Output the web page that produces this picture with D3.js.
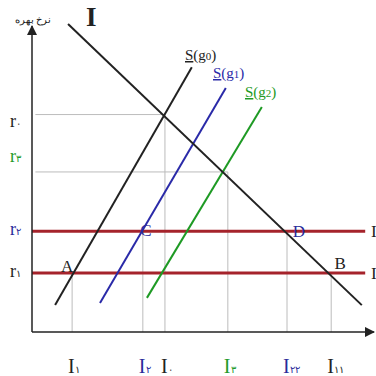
<!DOCTYPE html>
<html lang="fa">
<head>
<meta charset="UTF-8">
<script src="https://d3js.org/d3.v7.min.js"></script>
<style>
    body { margin: 0; background: #fff; }
    text { font-family: "Liberation Serif", serif; }
</style>
</head>
<body>
<svg id="chart" width="376" height="376"></svg>
<script>
// interest rate levels (y) and investment levels (x)
const rNames = ["r۰", "r۳", "r۲", "r۱"];
const rValues = [72, 53, 33.4, 19.5];
const iNames = ["I۱", "I۲", "I۰", "I۳", "I۲۲", "I۱۱"];
const iValues = [11.8, 32.6, 39.1, 57.6, 75, 88];
// which r each I column reaches up to
const iHeights = [19.5, 33.4, 72, 53, 33.4, 19.5];

// investment curve and the three saving curves, [x, y] end points
const investLine = [[10.6, 102], [97, 8.9]];
const sNames = ["0", "1", "2"];
const sLines = [
    [[6.8, 8.9], [47, 87.7]],
    [[20, 9.6], [57, 80.8]],
    [[33.8, 11.3], [67.6, 74.5]]
];
const points = ["A", "C", "D", "B"];
const pointX = [11.8, 32.6, 75, 88];
const pointY = [19.5, 33.4, 33.4, 19.5];

const svg = d3.select("#chart");
const x = d3.scaleLinear().domain([0, 100]).range([32, 372]);
const y = d3.scaleLinear().domain([0, 100]).range([332, 30]);
const line = d3.line().x(d => x(d[0])).y(d => y(d[1]));

const black = "#222", blue = "#2a2a9a", green = "#239a2a", red = "#a5232b", grey = "#bcbcbc";
const rColors = [black, green, blue, black];
const rOffsets = [12, -10, 4, 4];
const iColors = [black, blue, black, green, blue, black];
const sColors = [black, "#2a2aa8", "#1e9a24"];

// grey guide lines
svg.append("g").selectAll("line")
    .data([0, 1])
    .join("line")
    .attr("x1", x(1)).attr("x2", d => x(d === 0 ? iValues[2] : iValues[3]))
    .attr("y1", d => y(rValues[d])).attr("y2", d => y(rValues[d]))
    .attr("stroke", grey).attr("stroke-width", 1);

svg.append("g").selectAll("line")
    .data(iValues)
    .join("line")
    .attr("x1", d => x(d)).attr("x2", d => x(d))
    .attr("y1", y(0)).attr("y2", (d, i) => y(iHeights[i]))
    .attr("stroke", grey).attr("stroke-width", 1);

// red horizontal rates r2 and r1
svg.append("g").selectAll("line")
    .data([rValues[2], rValues[3]])
    .join("line")
    .attr("x1", x(0)).attr("x2", x(98))
    .attr("y1", d => y(d)).attr("y2", d => y(d))
    .attr("stroke", red).attr("stroke-width", 3);

svg.selectAll(".edge")
    .data([rValues[2], rValues[3]])
    .join("text")
    .attr("class", "edge")
    .attr("x", 371).attr("y", d => y(d) + 6)
    .attr("font-size", 17).attr("fill", black)
    .text("I");

// saving curves
svg.append("g").selectAll("path")
    .data(sLines)
    .join("path")
    .attr("d", line)
    .attr("fill", "none")
    .attr("stroke", (d, i) => sColors[i])
    .attr("stroke-width", 2);

// investment curve
svg.append("path")
    .attr("d", line(investLine))
    .attr("fill", "none").attr("stroke", black).attr("stroke-width", 2);

svg.append("text")
    .attr("x", 86).attr("y", 26)
    .attr("font-size", 27).attr("font-weight", "bold").attr("fill", black)
    .text("I");

// S labels
const sLabelPos = [[185, 60], [213, 78], [245, 97]];
sNames.forEach((n, i) => {
    const t = svg.append("text")
        .attr("x", sLabelPos[i][0]).attr("y", sLabelPos[i][1])
        .attr("font-size", 15).attr("fill", sColors[i]);
    t.append("tspan").attr("text-decoration", "underline").text("S");
    t.append("tspan").text("(g");
    t.append("tspan").attr("font-size", 11).text(n);
    t.append("tspan").text(")");
});

// point letters
const pointDx = [-5, 3, 12, 9];
const pointDy = [-1, 5, 6, -4];
svg.append("g").selectAll("text")
    .data(points)
    .join("text")
    .attr("x", (d, i) => x(pointX[i]) + pointDx[i])
    .attr("y", (d, i) => y(pointY[i]) + pointDy[i])
    .attr("text-anchor", "middle")
    .attr("font-size", 17)
    .attr("fill", (d, i) => (d === "C" || d === "D") ? blue : black)
    .text(d => d);

// axes
const defs = svg.append("defs");
defs.append("marker").attr("id", "arr")
    .attr("viewBox", "0 0 10 10").attr("refX", 9).attr("refY", 5)
    .attr("markerWidth", 7).attr("markerHeight", 7).attr("orient", "auto")
    .append("path").attr("d", "M0,0L10,5L0,10z").attr("fill", black);

svg.append("line")
    .attr("x1", x(0)).attr("y1", y(0)).attr("x2", x(0)).attr("y2", 26)
    .attr("stroke", black).attr("stroke-width", 1.5).attr("marker-end", "url(#arr)");
svg.append("line")
    .attr("x1", x(0)).attr("y1", y(0)).attr("x2", 374).attr("y2", y(0))
    .attr("stroke", black).attr("stroke-width", 1.5).attr("marker-end", "url(#arr)");

svg.append("text")
    .attr("x", 33).attr("y", 23)
    .attr("text-anchor", "middle")
    .attr("font-family", "DejaVu Sans").attr("font-size", 10).attr("fill", black)
    .text("نرخ بهره");

// r tick labels
rNames.forEach((n, i) => {
    const t = svg.append("text")
        .attr("x", 10).attr("y", y(rValues[i]) + rOffsets[i])
        .attr("font-size", 18).attr("fill", rColors[i]);
    t.append("tspan").text(n[0]);
    t.append("tspan").attr("font-size", 10).text(n.slice(1));
});

// I tick labels
iNames.forEach((n, i) => {
    const t = svg.append("text")
        .attr("x", x(iValues[i]) - 4).attr("y", 373)
        .attr("font-size", 20).attr("fill", iColors[i]);
    t.append("tspan").text(n[0]);
    t.append("tspan").attr("font-size", 10).text(n.slice(1));
});
</script>
</body>
</html>
